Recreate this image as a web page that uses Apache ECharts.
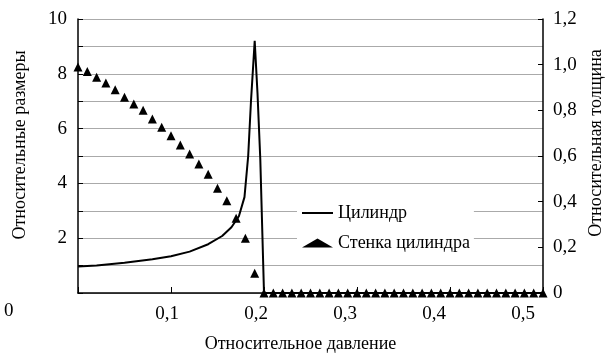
<!DOCTYPE html>
<html>
<head>
<meta charset="utf-8">
<script src="https://cdn.jsdelivr.net/npm/echarts@6/dist/echarts.min.js"></script>
<style>
html,body{margin:0;padding:0;background:#fff;}
#chart{width:607px;height:355px;}
</style>
</head>
<body>
<div id="chart"></div>
<script>
// кривая "Цилиндр" (левая ось)
var cylinderX = [0, 0.02, 0.05, 0.08, 0.1, 0.12, 0.14, 0.155, 0.165, 0.173, 0.179, 0.183, 0.186, 0.19, 0.193, 0.196, 0.2, 0.3, 0.4, 0.5];
var cylinderY = [0.97, 1.0, 1.1, 1.23, 1.34, 1.51, 1.78, 2.08, 2.4, 2.8, 3.5, 5.0, 7.0, 9.2, 7.3, 4.9, 0, 0, 0, 0];
// точки "Стенка цилиндра" (правая ось), шаг 0,01
var wallStep = 0.01;
var wallY = [0.99, 0.97, 0.945, 0.92, 0.89, 0.857, 0.828, 0.8, 0.762, 0.726,
             0.689, 0.648, 0.609, 0.565, 0.52, 0.459, 0.404, 0.327, 0.24, 0.086,
             0, 0, 0, 0, 0, 0, 0, 0, 0, 0,
             0, 0, 0, 0, 0, 0, 0, 0, 0, 0,
             0, 0, 0, 0, 0, 0, 0, 0, 0, 0, 0];
var xTicks = ['0,1', '0,2', '0,3', '0,4', '0,5'];

var chart = echarts.init(document.getElementById('chart'));
var font = 'Liberation Serif';

var lineData = cylinderX.map(function (x, i) { return [x, cylinderY[i]]; });
var wallData = wallY.map(function (y, i) { return [+(i * wallStep).toFixed(2), y]; });

// подписи оси X в оригинале чуть сдвинуты влево
var rich = {};
for (var k = 1; k <= 5; k++) {
    rich['p' + k] = {fontFamily: font, fontSize: 19, color: '#000', padding: [0, k * 8, 0, 0]};
}

chart.setOption({
    animation: false,
    grid: {left: 78, right: 64, top: 19, bottom: 62, containLabel: false, outerBoundsMode: 'none'},
    legend: {
        orient: 'vertical',
        left: 297, top: 200,
        backgroundColor: '#fff',
        padding: [4, 4, 4, 5],
        itemWidth: 31, itemHeight: 9, itemGap: 12,
        textStyle: {fontFamily: font, fontSize: 18, color: '#000'},
        data: [
            {name: 'Цилиндр', icon: 'path://M0,0L31,0L31,2L0,2Z'},
            {name: 'Стенка цилиндра', icon: 'triangle'}
        ],
        z: 10
    },
    xAxis: {
        type: 'value', min: 0, max: 0.5, interval: 0.1,
        name: 'Относительное давление', nameLocation: 'middle', nameGap: 42,
        nameTextStyle: {fontFamily: font, fontSize: 18, color: '#000', padding: [0, 20, 0, 0]},
        axisLine: {lineStyle: {color: '#000', width: 1.5}},
        axisTick: {show: true, inside: true, length: 6, lineStyle: {color: '#000', width: 1}},
        splitLine: {show: false},
        axisLabel: {
            margin: 12,
            rich: rich,
            formatter: function (v) {
                var i = Math.round(v * 10);
                if (i === 0) return '';
                return '{p' + i + '|' + xTicks[i - 1] + '}';
            }
        }
    },
    yAxis: [{
        type: 'value', min: 0, max: 10, interval: 1,
        name: 'Относительные размеры', nameLocation: 'middle', nameGap: 49, nameRotate: 90,
        nameTextStyle: {fontFamily: font, fontSize: 18, color: '#000', padding: [0, 0, 0, 22]},
        axisLine: {show: true, lineStyle: {color: '#000', width: 1.5}},
        axisTick: {show: true, inside: true, length: 5, lineStyle: {color: '#000', width: 1}},
        splitLine: {show: true, lineStyle: {color: '#aaaaaa', width: 1}},
        axisLabel: {
            fontFamily: font, fontSize: 19, color: '#000', margin: 11, padding: [6, 0, 0, 0],
            formatter: function (v) { return (v > 0 && v % 2 === 0) ? String(v) : ''; }
        }
    }, {
        type: 'value', min: 0, max: 1.2, interval: 0.2, position: 'right',
        name: 'Относительная толщина', nameLocation: 'middle', nameGap: 44, nameRotate: 90,
        nameTextStyle: {fontFamily: font, fontSize: 18, color: '#000', padding: [0, 0, 0, 26]},
        axisLine: {show: true, lineStyle: {color: '#000', width: 1.5}},
        axisTick: {show: true, inside: true, length: 5, lineStyle: {color: '#000', width: 1}},
        splitLine: {show: false},
        axisLabel: {
            fontFamily: font, fontSize: 19, color: '#000', margin: 10, padding: [4, 0, 0, 0],
            formatter: function (v) { return v === 0 ? '0' : v.toFixed(1).replace('.', ','); }
        }
    }],
    graphic: [{
        type: 'text', left: 4, top: 302,
        style: {text: '0', font: '19px "Liberation Serif"', fill: '#000'}
    }],
    series: [{
        name: 'Цилиндр',
        type: 'line',
        yAxisIndex: 0,
        symbol: 'none',
        lineStyle: {color: '#000', width: 2},
        itemStyle: {color: '#000'},
        data: lineData,
        z: 3
    }, {
        name: 'Стенка цилиндра',
        type: 'scatter',
        yAxisIndex: 1,
        symbol: 'triangle',
        symbolSize: 9,
        itemStyle: {color: '#000', opacity: 1},
        data: wallData,
        z: 4
    }]
});
</script>
</body>
</html>
